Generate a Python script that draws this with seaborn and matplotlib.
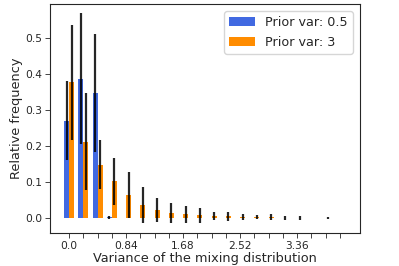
import matplotlib
matplotlib.use("Agg")
import matplotlib.pyplot as plt
import seaborn as sns
import pandas as pd
import numpy as np

# bin positions (variance of the mixing distribution)
variance = [0.0, 0.21, 0.42, 0.63, 0.84, 1.05, 1.26, 1.47, 1.68, 1.89,
            2.1, 2.31, 2.52, 2.73, 2.94, 3.15, 3.36, 3.57, 3.78, 3.99]
tick_labels = ["0.0", "", "", "", "0.84", "", "", "", "1.68", "",
               "", "", "2.52", "", "", "", "3.36", "", "", ""]

# Prior var: 0.5
freq_small = [0.271, 0.387, 0.347, 0.003, 0, 0, 0, 0, 0, 0,
              0, 0, 0, 0, 0, 0, 0, 0, 0, 0]
err_small = [0.110, 0.182, 0.164, 0.004, 0, 0, 0, 0, 0, 0,
             0, 0, 0, 0, 0, 0, 0, 0, 0, 0]

# Prior var: 3
freq_large = [0.377, 0.213, 0.149, 0.102, 0.065, 0.037, 0.023, 0.014, 0.011, 0.008,
              0.005, 0.005, 0.004, 0.0035, 0.0035, 0.0015, 0.0015, 0.0005, 0.0005, 0]
err_large = [0.160, 0.134, 0.068, 0.065, 0.063, 0.049, 0.033, 0.028, 0.024, 0.020,
             0.011, 0.012, 0.008, 0.0065, 0.0085, 0.005, 0.006, 0.001, 0.002, 0]

labels = ["Prior var: 0.5", "Prior var: 3"]
colors = ["royalblue", "darkorange"]

sns.set_style("ticks")
plt.rcParams["font.family"] = ["DejaVu Sans"]

cats = [str(v) for v in variance]
df = pd.DataFrame({
    "variance": cats * 2,
    "freq": freq_small + freq_large,
    "prior": [labels[0]] * len(cats) + [labels[1]] * len(cats),
})

fig = plt.figure(figsize=(3.99, 2.66), dpi=100)
ax = fig.add_axes([0.125, 0.124, 0.777, 0.86])

sns.barplot(data=df, x="variance", y="freq", hue="prior", order=cats,
            width=0.7, palette=colors, errorbar=None, saturation=1,
            linewidth=0, ax=ax)

# precomputed error bars, centred on each dodged bar
offset = 0.7 / 4
pos = np.arange(len(cats))
for freqs, errs, shift in [(freq_small, err_small, -offset), (freq_large, err_large, offset)]:
    f = np.array(freqs)
    e = np.array(errs)
    m = e > 0
    ax.errorbar(pos[m] + shift, f[m], yerr=e[m], fmt="none", ecolor="black",
                elinewidth=1.6, capsize=0, alpha=0.85)

ax.set_xticks(pos)
ax.set_xticklabels(tick_labels, fontsize=7.7)
ax.set_yticks([0.0, 0.1, 0.2, 0.3, 0.4, 0.5])
ax.set_yticklabels(["0.0", "0.1", "0.2", "0.3", "0.4", "0.5"], fontsize=7.7)
ax.tick_params(length=3.5, width=0.6, pad=2)
ax.set_xlim(-1.352, 20.4)
ax.set_ylim(-0.041, 0.594)
ax.set_xlabel("Variance of the mixing distribution", fontsize=9.3, labelpad=1)
ax.set_ylabel("Relative frequency", fontsize=9.3, labelpad=1.5)
for s in ax.spines.values():
    s.set_linewidth(0.8)

ax.legend(loc="upper right", fontsize=9.2, title=None, handlelength=2.0,
          borderaxespad=0.55)

fig.savefig("out.png", dpi=100)
